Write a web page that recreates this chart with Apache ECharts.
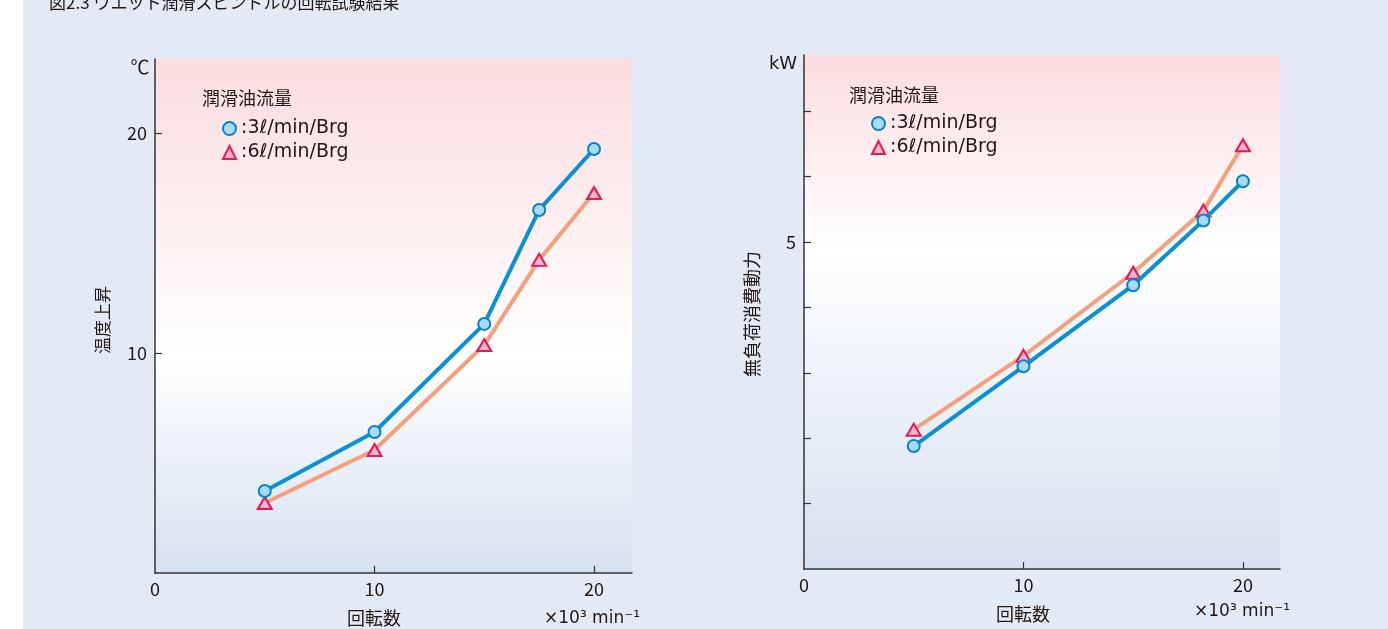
<!DOCTYPE html>
<html><head><meta charset="utf-8">
<script src="https://cdn.jsdelivr.net/npm/echarts@6/dist/echarts.min.js"></script>
<style>
html,body{margin:0;padding:0;}
body{background:linear-gradient(to right,#ffffff 23px,#E3EAF5 23px);}
#c{width:1388px;height:629px;}
</style>
</head><body><div id="c"></div>
<script>
// ---- data ----
const speedLeft  = [5, 10, 15, 17.5, 20];          // ×10³ min⁻¹
const tempRise3  = [3.73, 6.41, 11.32, 16.5, 19.27]; // ℃, 3ℓ/min/Brg
const tempRise6  = [3.18, 5.59, 10.36, 14.23, 17.27]; // ℃, 6ℓ/min/Brg
const speedRight = [5, 10, 15, 18.2, 20];
const power3     = [1.88, 3.10, 4.34, 5.33, 5.93];  // kW, 3ℓ/min/Brg
const power6     = [2.13, 3.26, 4.53, 5.48, 6.48];  // kW, 6ℓ/min/Brg
const xTicks       = [10, 20];
const xLabels      = [0, 10, 20];
const yTicksLeft   = [10, 20];
const yLabelsLeft  = [10, 20];
const yTicksRight  = [1, 2, 3, 4, 5, 6, 7];
const yLabelsRight = [5];
const name3 = '3ℓ/min/Brg';
const name6 = '6ℓ/min/Brg';

const FONT = "'Noto Sans CJK JP','Noto Sans',sans-serif";
const LATIN = "'DejaVu Sans','Noto Sans CJK JP',sans-serif";
const TXT = '#231815';
const BLUE_LINE = '#0A90D4', BLUE_FILL = '#A6DBF6', BLUE_EDGE = '#0A80C8';
const PINK_LINE = '#F4A07E', PINK_FILL = '#F3B6C9', PINK_EDGE = '#E6185C';

const zip = (xs, ys) => xs.map((x, i) => [x, ys[i]]);

function bg(whiteAt){
  return new echarts.graphic.LinearGradient(0,0,0,1,[
    {offset:0, color:'#FCDCDF'},
    {offset:whiteAt, color:'#FFFFFF'},
    {offset:1, color:'#D6E1F0'}
  ]);
}
function xAxis(gi, max){
  return {gridIndex:gi, type:'value', min:0, max:max,
    axisLine:{show:true, onZero:false, lineStyle:{color:'#333', width:1.5}},
    axisTick:{show:true, inside:true, length:7, customValues:xTicks, lineStyle:{color:'#333', width:1.2}},
    axisLabel:{customValues:xLabels, fontSize:18, color:TXT, fontFamily:FONT, margin:7},
    splitLine:{show:false}};
}
function yAxis(gi, max, ticks, labels){
  return {gridIndex:gi, type:'value', min:0, max:max,
    axisLine:{show:true, onZero:false, lineStyle:{color:'#333', width:1.5}},
    axisTick:{show:true, inside:true, length:7, customValues:ticks, lineStyle:{color:'#333', width:1.2}},
    axisLabel:{customValues:labels, fontSize:18, color:TXT, fontFamily:FONT, margin:8},
    splitLine:{show:false}};
}
function series(name, gi, data, isBlue){
  return {name:name, type:'line', xAxisIndex:gi, yAxisIndex:gi, data:data,
    symbol: isBlue ? 'circle' : 'triangle',
    symbolSize: isBlue ? 12 : [14, 12],
    lineStyle:{color: isBlue ? BLUE_LINE : PINK_LINE, width:4},
    itemStyle:{color: isBlue ? BLUE_FILL : PINK_FILL, borderColor: isBlue ? BLUE_EDGE : PINK_EDGE, borderWidth:2},
    emphasis:{disabled:true}, z: isBlue ? 3 : 2};
}
function legend(left, top){
  return {left:left, top:top, padding:0, orient:'vertical', itemGap:5, itemWidth:13, itemHeight:13,
    formatter: n => ':' + n,
    textStyle:{fontSize:19, color:TXT, fontFamily:LATIN},
    data:[
      {name:name3, icon:'circle', itemStyle:{color:BLUE_FILL, borderColor:BLUE_EDGE, borderWidth:2}},
      {name:name6, icon:'triangle', itemStyle:{color:PINK_FILL, borderColor:PINK_EDGE, borderWidth:2}}
    ]};
}
function txt(x, y, s, size, opts){
  opts = opts || {};
  return {type:'text', x:x, y:y, silent:true, rotation: opts.rotation || 0,
    style:{text:s, fontSize:size, fontFamily: opts.font || FONT, fill:TXT,
           align: opts.align || 'center', verticalAlign:'middle'}};
}

const chart = echarts.init(document.getElementById('c'));
chart.setOption({
  animation:false,
  backgroundColor:'transparent',
  grid:[
    {left:155, top:59, width:477, height:514, show:true, borderWidth:0, backgroundColor:bg(0.58), outerBoundsMode:'none'},
    {left:804, top:55, width:476, height:514, show:true, borderWidth:0, backgroundColor:bg(0.38), outerBoundsMode:'none'}
  ],
  xAxis:[xAxis(0, 21.73), xAxis(1, 21.69)],
  yAxis:[yAxis(0, 23.36, yTicksLeft, yLabelsLeft), yAxis(1, 7.86, yTicksRight, yLabelsRight)],
  legend:[legend(222, 119), legend(871, 114)],
  series:[
    series(name6, 0, zip(speedLeft, tempRise6), false),
    series(name3, 0, zip(speedLeft, tempRise3), true),
    series(name6, 1, zip(speedRight, power6), false),
    series(name3, 1, zip(speedRight, power3), true)
  ],
  graphic:[
    txt(49, 3, '図2.3 ウエット潤滑スピンドルの回転試験結果', 17, {align:'left'}),
    txt(140, 67, '℃', 19),
    txt(783, 64, 'kW', 18, {font:LATIN}),
    txt(202, 98, '潤滑油流量', 18, {align:'left'}),
    txt(849, 95, '潤滑油流量', 18, {align:'left'}),
    txt(103, 320, '温度上昇', 17, {rotation:Math.PI/2}),
    txt(752, 314, '無負荷消費動力', 18, {rotation:Math.PI/2}),
    txt(374, 618, '回転数', 18),
    txt(1023, 614, '回転数', 18),
    txt(592, 619, '×10³ min⁻¹', 17, {font:LATIN}),
    txt(1242, 612, '×10³ min⁻¹', 17, {font:LATIN})
  ]
});
</script>
</body></html>
